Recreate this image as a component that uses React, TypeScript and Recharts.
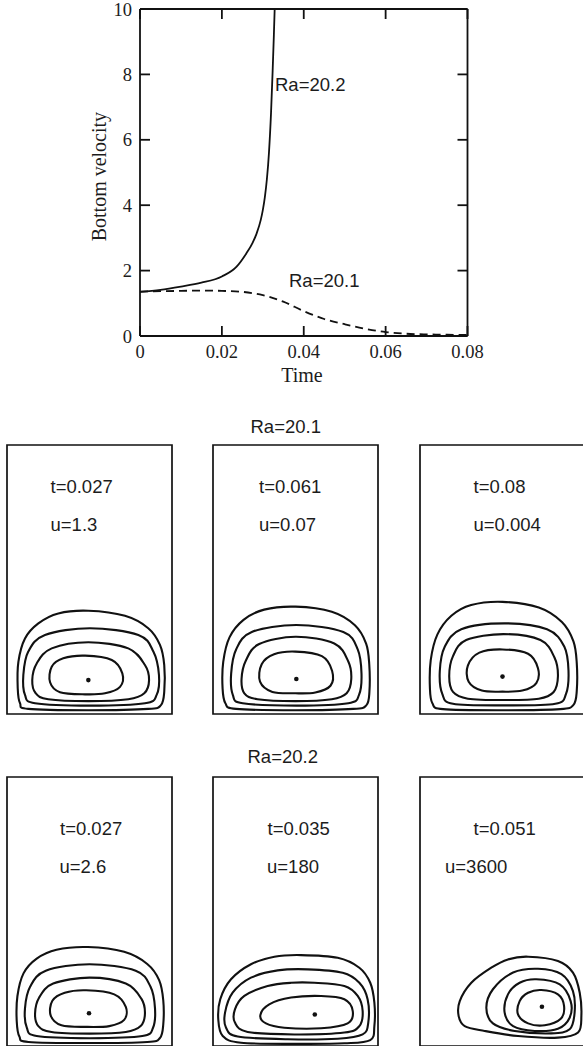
import React from 'react';
import { LineChart, Line, XAxis, YAxis, ReferenceArea, ReferenceDot } from 'recharts';

// ---------- top chart data ----------
const TIME_TICKS = [0, 0.02, 0.04, 0.06, 0.08];
const TIME_TICK_LABELS = ['0', '0.02', '0.04', '0.06', '0.08'];
const VEL_TICKS = [0, 2, 4, 6, 8, 10];
const VEL_TICK_LABELS = ['0', '2', '4', '6', '8', '10'];

const RA202_T = [0, 0.005, 0.01, 0.015, 0.02, 0.0236, 0.026, 0.0275, 0.0285, 0.0295, 0.03, 0.0305, 0.031, 0.0315, 0.032, 0.0324, 0.0327, 0.0329];
const RA202_V = [1.35, 1.41, 1.51, 1.63, 1.82, 2.12, 2.53, 2.85, 3.14, 3.55, 3.85, 4.25, 4.8, 5.6, 6.8, 8.1, 9.2, 10];

const RA201_T = [0, 0.005, 0.01, 0.015, 0.02, 0.025, 0.03, 0.035, 0.04, 0.045, 0.05, 0.055, 0.06, 0.065, 0.07, 0.075, 0.08];
const RA201_V = [1.36, 1.37, 1.38, 1.39, 1.38, 1.35, 1.25, 1.05, 0.76, 0.52, 0.36, 0.22, 0.12, 0.07, 0.05, 0.04, 0.03];

// ---------- panel contour data (normalized panel coordinates) ----------
type P = [number, number];

const R1P1_L1: P[] = [[0.493,0.384],[0.715,0.365],[0.856,0.319],[0.927,0.257],[0.953,0.182],[0.953,0.083],[0.933,0.033],[0.856,0.019],[0.493,0.014],[0.129,0.019],[0.079,0.04],[0.065,0.096],[0.069,0.194],[0.109,0.281],[0.19,0.337],[0.311,0.374]];
const R1P1_L2: P[] = [[0.503,0.319],[0.796,0.294],[0.887,0.232],[0.921,0.145],[0.907,0.071],[0.836,0.04],[0.503,0.031],[0.17,0.04],[0.109,0.071],[0.099,0.145],[0.129,0.232],[0.23,0.294]];
const R1P1_L3: P[] = [[0.493,0.267],[0.735,0.244],[0.836,0.182],[0.861,0.126],[0.832,0.077],[0.735,0.055],[0.493,0.048],[0.25,0.055],[0.174,0.077],[0.153,0.126],[0.18,0.188],[0.271,0.244]];
const R1P1_L4: P[] = [[0.473,0.217],[0.635,0.201],[0.699,0.151],[0.685,0.101],[0.594,0.077],[0.473,0.073],[0.321,0.081],[0.261,0.118],[0.271,0.176],[0.341,0.207]];
const R1P1_DOT: P = [0.493, 0.126];

const R1P2_L1: P[] = [[0.5,0.399],[0.72,0.38],[0.86,0.33],[0.928,0.262],[0.947,0.185],[0.948,0.083],[0.93,0.033],[0.85,0.019],[0.5,0.014],[0.14,0.019],[0.075,0.04],[0.058,0.096],[0.062,0.194],[0.1,0.285],[0.185,0.35],[0.31,0.388]];
const R1P2_L2: P[] = [[0.505,0.331],[0.79,0.305],[0.877,0.24],[0.9,0.15],[0.885,0.071],[0.82,0.04],[0.505,0.031],[0.18,0.04],[0.12,0.071],[0.11,0.15],[0.14,0.24],[0.235,0.305]];
const R1P2_L3: P[] = [[0.5,0.287],[0.735,0.262],[0.82,0.195],[0.838,0.13],[0.81,0.077],[0.72,0.055],[0.5,0.048],[0.27,0.055],[0.19,0.077],[0.173,0.13],[0.2,0.2],[0.28,0.26]];
const R1P2_L4: P[] = [[0.5,0.232],[0.66,0.215],[0.722,0.16],[0.712,0.105],[0.62,0.08],[0.5,0.077],[0.36,0.082],[0.285,0.12],[0.295,0.185],[0.37,0.222]];
const R1P2_DOT: P = [0.505, 0.13];

const R1P3_L1: P[] = [[0.5,0.417],[0.72,0.396],[0.86,0.342],[0.93,0.27],[0.95,0.19],[0.95,0.085],[0.93,0.034],[0.85,0.018],[0.5,0.014],[0.14,0.018],[0.075,0.04],[0.06,0.098],[0.065,0.2],[0.105,0.295],[0.19,0.365],[0.31,0.405]];
const R1P3_L2: P[] = [[0.51,0.337],[0.77,0.315],[0.875,0.25],[0.9,0.16],[0.885,0.075],[0.82,0.038],[0.51,0.032],[0.2,0.038],[0.135,0.075],[0.12,0.16],[0.15,0.25],[0.25,0.315]];
const R1P3_L3: P[] = [[0.505,0.297],[0.73,0.275],[0.815,0.21],[0.836,0.14],[0.81,0.082],[0.72,0.057],[0.505,0.052],[0.29,0.057],[0.2,0.082],[0.177,0.14],[0.2,0.215],[0.28,0.275]];
const R1P3_L4: P[] = [[0.5,0.24],[0.655,0.224],[0.715,0.17],[0.705,0.115],[0.62,0.087],[0.5,0.083],[0.375,0.087],[0.295,0.12],[0.29,0.18],[0.36,0.228]];
const R1P3_DOT: P = [0.5, 0.139];

const R2P1_L1: P[] = [[0.49,0.368],[0.71,0.35],[0.85,0.305],[0.922,0.245],[0.947,0.17],[0.947,0.08],[0.927,0.03],[0.85,0.015],[0.49,0.011],[0.13,0.015],[0.075,0.035],[0.059,0.092],[0.063,0.185],[0.1,0.27],[0.18,0.325],[0.3,0.358]];
const R2P1_L2: P[] = [[0.5,0.304],[0.78,0.28],[0.87,0.22],[0.897,0.14],[0.885,0.068],[0.82,0.037],[0.5,0.029],[0.18,0.037],[0.12,0.068],[0.109,0.14],[0.14,0.22],[0.235,0.28]];
const R2P1_L3: P[] = [[0.5,0.254],[0.72,0.232],[0.815,0.175],[0.836,0.12],[0.81,0.074],[0.72,0.052],[0.5,0.046],[0.27,0.052],[0.19,0.074],[0.17,0.12],[0.195,0.18],[0.28,0.232]];
const R2P1_L4: P[] = [[0.48,0.207],[0.65,0.192],[0.72,0.145],[0.71,0.097],[0.62,0.074],[0.48,0.071],[0.33,0.077],[0.265,0.113],[0.275,0.168],[0.35,0.198]];
const R2P1_DOT: P = [0.497, 0.122];

const R2P2_L1: P[] = [[0.533,0.338],[0.756,0.328],[0.887,0.291],[0.953,0.235],[0.978,0.161],[0.978,0.074],[0.953,0.022],[0.796,0.01],[0.5,0.008],[0.17,0.012],[0.059,0.037],[0.032,0.099],[0.044,0.174],[0.109,0.248],[0.23,0.304],[0.372,0.332]];
const R2P2_L2: P[] = [[0.574,0.285],[0.786,0.272],[0.887,0.235],[0.937,0.174],[0.941,0.087],[0.907,0.043],[0.756,0.027],[0.453,0.025],[0.15,0.035],[0.079,0.068],[0.073,0.124],[0.119,0.198],[0.23,0.254],[0.392,0.281]];
const R2P2_L3: P[] = [[0.614,0.235],[0.796,0.223],[0.877,0.186],[0.907,0.13],[0.887,0.074],[0.796,0.05],[0.493,0.043],[0.21,0.052],[0.133,0.087],[0.133,0.136],[0.19,0.186],[0.331,0.223],[0.473,0.235]];
const R2P2_L4: P[] = [[0.655,0.186],[0.796,0.174],[0.847,0.13],[0.816,0.084],[0.655,0.066],[0.432,0.068],[0.321,0.084],[0.287,0.115],[0.341,0.155],[0.473,0.18]];
const R2P2_DOT: P = [0.617, 0.117];

const R2P3_L1: P[] = [[0.655,0.332],[0.836,0.316],[0.927,0.273],[0.968,0.198],[0.978,0.112],[0.958,0.05],[0.836,0.031],[0.594,0.037],[0.392,0.056],[0.271,0.074],[0.234,0.112],[0.241,0.167],[0.311,0.235],[0.432,0.291],[0.533,0.322]];
const R2P3_L2: P[] = [[0.715,0.287],[0.857,0.267],[0.927,0.204],[0.937,0.124],[0.907,0.062],[0.796,0.047],[0.574,0.056],[0.442,0.084],[0.402,0.142],[0.442,0.211],[0.564,0.273]];
const R2P3_L3: P[] = [[0.705,0.248],[0.847,0.229],[0.913,0.167],[0.907,0.105],[0.836,0.064],[0.695,0.056],[0.564,0.074],[0.513,0.124],[0.533,0.192],[0.604,0.235]];
const R2P3_L4: P[] = [[0.735,0.208],[0.836,0.192],[0.873,0.149],[0.853,0.101],[0.756,0.077],[0.655,0.084],[0.594,0.118],[0.604,0.167],[0.655,0.198]];
const R2P3_DOT: P = [0.739, 0.146];

const ROW_TITLES = ['Ra=20.1', 'Ra=20.2'];
const PANEL_T_LABELS = [['t=0.027', 't=0.061', 't=0.08'], ['t=0.027', 't=0.035', 't=0.051']];
const PANEL_U_LABELS = [['u=1.3', 'u=0.07', 'u=0.004'], ['u=2.6', 'u=180', 'u=3600']];

const PANEL_LOOPS: P[][][][] = [
  [[R1P1_L1, R1P1_L2, R1P1_L3, R1P1_L4], [R1P2_L1, R1P2_L2, R1P2_L3, R1P2_L4], [R1P3_L1, R1P3_L2, R1P3_L3, R1P3_L4]],
  [[R2P1_L1, R2P1_L2, R2P1_L3, R2P1_L4], [R2P2_L1, R2P2_L2, R2P2_L3, R2P2_L4], [R2P3_L1, R2P3_L2, R2P3_L3, R2P3_L4]],
];
const PANEL_DOTS: P[][] = [[R1P1_DOT, R1P2_DOT, R1P3_DOT], [R2P1_DOT, R2P2_DOT, R2P3_DOT]];

// ---------- helpers ----------
const toPts = (a: P[]) => a.map(([x, y]) => ({ x, y }));
const zipTV = (t: number[], v: number[]) => t.map((tt, i) => ({ t: tt, v: v[i] }));

// closed Catmull-Rom curve (passes through the given points)
const catmullRomClosed = (context: any) => {
  let pts: number[][] = [];
  return {
    areaStart() {},
    areaEnd() {},
    lineStart() { pts = []; },
    point(x: number, y: number) { pts.push([+x, +y]); },
    lineEnd() {
      const n = pts.length;
      if (!n) return;
      context.moveTo(pts[0][0], pts[0][1]);
      for (let i = 0; i < n; i++) {
        const p0 = pts[(i - 1 + n) % n];
        const p1 = pts[i];
        const p2 = pts[(i + 1) % n];
        const p3 = pts[(i + 2) % n];
        context.bezierCurveTo(
          p1[0] + (p2[0] - p0[0]) / 6, p1[1] + (p2[1] - p0[1]) / 6,
          p2[0] - (p3[0] - p1[0]) / 6, p2[1] - (p3[1] - p1[1]) / 6,
          p2[0], p2[1]
        );
      }
      context.closePath();
    },
  };
};

const INK = '#111';
const TXT = '#1c1c1c';
const SANS = '"Liberation Sans", Arial, sans-serif';
const SERIF = '"Liberation Serif", "Times New Roman", serif';

const PANEL_W = 165;
const PANEL_H = 269;
const PANEL_LEFTS = [7, 213, 420];
const PANEL_TOPS = [445, 777];

const noTick = () => <g />;

function Panel({ left, top, loops, dot }: { left: number; top: number; loops: P[][]; dot: P }) {
  const pad = 3;
  return (
    <div style={{ position: 'absolute', left: left - pad, top: top - pad }}>
      <LineChart width={PANEL_W + 2 * pad} height={PANEL_H + 2 * pad} margin={{ top: pad, right: pad, bottom: pad, left: pad }}>
        <XAxis type="number" dataKey="x" domain={[0, 1]} hide allowDataOverflow />
        <YAxis type="number" dataKey="y" domain={[0, 1]} hide allowDataOverflow />
        <ReferenceArea x1={0} x2={1} y1={0} y2={1} fill="none" fillOpacity={0} stroke={INK} strokeWidth={1.7} ifOverflow="visible" />
        {loops.map((l, i) => (
          <Line
            key={i}
            data={toPts(l)}
            dataKey="y"
            type={catmullRomClosed as any}
            stroke={INK}
            strokeWidth={2.1}
            fill="none"
            dot={false}
            activeDot={false}
            isAnimationActive={false}
          />
        ))}
        <ReferenceDot x={dot[0]} y={dot[1]} r={2.3} fill={INK} stroke="none" ifOverflow="visible" />
      </LineChart>
    </div>
  );
}

export default function App() {
  const ra202 = zipTV(RA202_T, RA202_V);
  const ra201 = zipTV(RA201_T, RA201_V);
  const axisStyle = { stroke: INK, strokeWidth: 1.8 };
  const tickText = { fill: TXT, fontSize: 18.5, fontFamily: SERIF };

  const tLefts = [[50.5, 259, 473.5], [60, 267.5, 473.5]];
  const uLefts = [[50.5, 259, 473.5], [59.5, 267, 445]];
  const tBase = [492.6, 835];
  const uBase = [530.6, 873.3];
  const titleLeft = [250.5, 247.5];
  const titleBase = [433.3, 763.3];

  return (
    <div style={{ position: 'absolute', left: 0, top: 0, width: 583, height: 1046, overflow: 'hidden', background: '#fff' }}>
      <div style={{ position: 'absolute', left: 0, top: 0 }}>
        <LineChart width={583} height={400} margin={{ top: 9, right: 115.5, bottom: 24, left: 80 }}>
          {/* bottom axis: labels + axis line */}
          <XAxis
            xAxisId="b"
            type="number"
            dataKey="t"
            domain={[0, 0.08]}
            ticks={TIME_TICKS}
            interval={0}
            tickFormatter={(v: number) => TIME_TICK_LABELS[TIME_TICKS.indexOf(v)] ?? String(v)}
            height={40}
            tickLine={false}
            tickSize={0}
            tickMargin={9}
            axisLine={axisStyle}
            tick={tickText}
            allowDataOverflow
          />
          {/* bottom axis: inward tick marks */}
          <XAxis
            xAxisId="bm"
            type="number"
            dataKey="t"
            domain={[0, 0.08]}
            ticks={TIME_TICKS}
            interval={0}
            mirror
            tickSize={10}
            axisLine={false}
            tickLine={axisStyle}
            tick={noTick}
            allowDataOverflow
          />
          {/* top frame */}
          <XAxis
            xAxisId="t"
            orientation="top"
            type="number"
            dataKey="t"
            domain={[0, 0.08]}
            ticks={TIME_TICKS}
            interval={0}
            mirror
            tickSize={10}
            axisLine={axisStyle}
            tickLine={axisStyle}
            tick={noTick}
            allowDataOverflow
          />
          {/* left axis: labels */}
          <YAxis
            yAxisId="l"
            type="number"
            domain={[0, 10]}
            ticks={VEL_TICKS}
            interval={0}
            tickFormatter={(v: number) => VEL_TICK_LABELS[VEL_TICKS.indexOf(v)] ?? String(v)}
            width={60}
            tickLine={false}
            tickSize={0}
            tickMargin={8}
            axisLine={axisStyle}
            tick={tickText}
            allowDataOverflow
          />
          {/* left axis: inward ticks */}
          <YAxis
            yAxisId="lm"
            type="number"
            domain={[0, 10]}
            ticks={VEL_TICKS}
            interval={0}
            mirror
            tickSize={10}
            axisLine={false}
            tickLine={axisStyle}
            tick={noTick}
            allowDataOverflow
          />
          {/* right frame */}
          <YAxis
            yAxisId="r"
            orientation="right"
            type="number"
            domain={[0, 10]}
            ticks={VEL_TICKS}
            interval={0}
            mirror
            tickSize={10}
            axisLine={axisStyle}
            tickLine={axisStyle}
            tick={noTick}
            allowDataOverflow
          />
          <Line xAxisId="b" yAxisId="l" data={ra202} dataKey="v" type="monotone" stroke={INK} strokeWidth={1.8} dot={false} activeDot={false} isAnimationActive={false} />
          <Line xAxisId="b" yAxisId="l" data={ra201} dataKey="v" type="monotone" stroke={INK} strokeWidth={1.8} strokeDasharray="8 5" dot={false} activeDot={false} isAnimationActive={false} />
        </LineChart>
      </div>

      {PANEL_TOPS.map((top, r) =>
        PANEL_LEFTS.map((left, c) => (
          <Panel key={`${r}-${c}`} left={left} top={top} loops={PANEL_LOOPS[r][c]} dot={PANEL_DOTS[r][c]} />
        ))
      )}

      <svg width={583} height={1046} style={{ position: 'absolute', left: 0, top: 0, pointerEvents: 'none' }}>
        <text x={275} y={90.5} fontFamily={SANS} fontSize={18.5} fill={TXT}>Ra=20.2</text>
        <text x={289} y={286.7} fontFamily={SANS} fontSize={18.5} fill={TXT}>Ra=20.1</text>
        <text x={302} y={382} fontFamily={SERIF} fontSize={20} fill={TXT} textAnchor="middle">Time</text>
        <text x={106.5} y={176.6} fontFamily={SERIF} fontSize={20} fill={TXT} textAnchor="middle" transform="rotate(-90 106.5 176.6)">Bottom velocity</text>
        {ROW_TITLES.map((t, r) => (
          <text key={`title-${r}`} x={titleLeft[r]} y={titleBase[r]} fontFamily={SANS} fontSize={18.5} fill={TXT}>{t}</text>
        ))}
        {PANEL_T_LABELS.map((row, r) =>
          row.map((s, c) => (
            <text key={`t-${r}-${c}`} x={tLefts[r][c]} y={tBase[r]} fontFamily={SANS} fontSize={18.5} fill={TXT}>{s}</text>
          ))
        )}
        {PANEL_U_LABELS.map((row, r) =>
          row.map((s, c) => (
            <text key={`u-${r}-${c}`} x={uLefts[r][c]} y={uBase[r]} fontFamily={SANS} fontSize={18.5} fill={TXT}>{s}</text>
          ))
        )}
      </svg>
    </div>
  );
}
